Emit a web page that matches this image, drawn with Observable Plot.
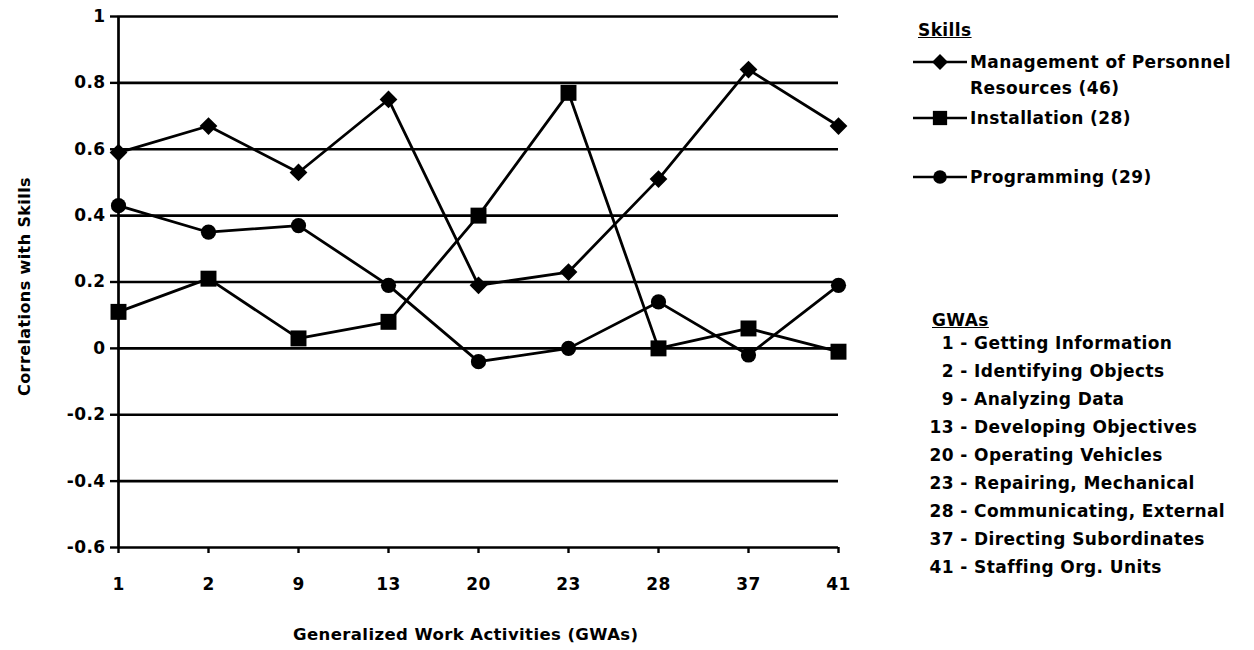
<!DOCTYPE html>
<html>
<head>
<meta charset="utf-8">
<script src="https://cdn.jsdelivr.net/npm/d3@7"></script>
<script src="https://cdn.jsdelivr.net/npm/@observablehq/plot@0.6"></script>
<style>
  body { margin: 0; background: #fff; }
  #wrap { position: relative; width: 1254px; height: 650px; overflow: hidden;
          font-family: "DejaVu Sans", sans-serif; font-weight: bold; color: #000; letter-spacing: 0.4px; }
  #chart { position: absolute; left: 0; top: 0; }
  .abs { position: absolute; white-space: nowrap; }
  .ytitle { font-size: 16px; transform: rotate(-90deg); transform-origin: center center; }
  .xtitle { font-size: 16.5px; }
  .lg { font-size: 17px; line-height: 26px; }
  .hd { font-size: 17px; line-height: 20px; text-decoration: underline; }
  .num { display: inline-block; width: 26px; text-align: right; }
</style>
</head>
<body>
<div id="wrap"><div id="chart"></div></div>
<script>
// ---- data ----
const gwas = ["1", "2", "9", "13", "20", "23", "28", "37", "41"];
const gwaNames = ["Getting Information", "Identifying Objects", "Analyzing Data",
  "Developing Objectives", "Operating Vehicles", "Repairing, Mechanical",
  "Communicating, External", "Directing Subordinates", "Staffing Org. Units"];
const skillNames = ["Management of Personnel Resources (46)", "Installation (28)", "Programming (29)"];
const management  = [0.59, 0.67, 0.53, 0.75, 0.19, 0.23, 0.51, 0.84, 0.67];
const installation = [0.11, 0.21, 0.03, 0.08, 0.40, 0.77, 0.00, 0.06, -0.01];
const programming = [0.43, 0.35, 0.37, 0.19, -0.04, 0.00, 0.14, -0.02, 0.19];
const yTicks = [-0.6, -0.4, -0.2, 0, 0.2, 0.4, 0.6, 0.8, 1];

// ---- styling per series ----
const seriesValues = [management, installation, programming];
const symbols = ["diamond2", "square", "circle"];
const radii = [8, 9, 7.6];

const rows = skillNames.flatMap((s, i) =>
  gwas.map((g, j) => ({skill: s, gwa: g, value: seriesValues[i][j]})));

const marks = [
  Plot.ruleY(yTicks, {stroke: "#000", strokeWidth: 2.7}),
  Plot.ruleX([gwas[0]], {stroke: "#000", strokeWidth: 2.7}),
  Plot.axisY({ticks: yTicks, tickSize: 7, tickPadding: 5, strokeWidth: 2.4, fontSize: 17,
    tickFormat: d => String(Math.round(d * 10) / 10), label: null}),
  Plot.axisX({tickSize: 6, tickPadding: 24, strokeWidth: 2.4, fontSize: 17, label: null})
];
skillNames.forEach((s, i) => {
  const d = rows.filter(r => r.skill === s);
  marks.push(Plot.line(d, {x: "gwa", y: "value", stroke: "#000", strokeWidth: 2.8}));
  marks.push(Plot.dot(d, {x: "gwa", y: "value", symbol: symbols[i], r: radii[i], fill: "#000", stroke: "none"}));
});

const chart = Plot.plot({
  width: 870, height: 650,
  marginLeft: 117, marginRight: 32, marginTop: 16, marginBottom: 103,
  x: {type: "point", domain: gwas, padding: 0},
  y: {domain: [-0.6, 1]},
  style: "font-family: 'DejaVu Sans', sans-serif; font-weight: bold; font-size: 17px; color: #000; background: transparent; letter-spacing: 0.4px;",
  marks
});
document.getElementById("chart").appendChild(chart);

// ---- titles ----
const wrap = document.getElementById("wrap");
function addDiv(cls, html, css) {
  const el = document.createElement("div");
  el.className = "abs " + cls;
  el.innerHTML = html;
  Object.assign(el.style, css);
  wrap.appendChild(el);
  return el;
}
const yt = addDiv("ytitle", "Correlations with Skills", {});
const ytw = yt.offsetWidth, yth = yt.offsetHeight;
yt.style.left = (24 - ytw / 2) + "px";
yt.style.top = (286 - yth / 2) + "px";

const xt = addDiv("xtitle", "Generalized Work Activities (GWAs)", {});
xt.style.left = (466 - xt.offsetWidth / 2) + "px";
xt.style.top = (634 - xt.offsetHeight / 2) + "px";

// ---- skills legend ----
addDiv("hd", "Skills", {left: "918px", top: "20px"});
const legendY = [62, 118, 177];
skillNames.forEach((s, i) => {
  const y = legendY[i];
  const svg = d3.create("svg").attr("width", 60).attr("height", 24)
    .style("position", "absolute").style("left", "910px").style("top", (y - 12) + "px");
  svg.append("line").attr("x1", 3).attr("x2", 57).attr("y1", 12).attr("y2", 12)
    .attr("stroke", "#000").attr("stroke-width", 2.6);
  const symType = [d3.symbolDiamond2, d3.symbolSquare, d3.symbolCircle][i];
  svg.append("path").attr("transform", "translate(30,12)")
    .attr("d", d3.symbol(symType, Math.PI * radii[i] * radii[i] * 0.8)()).attr("fill", "#000");
  wrap.appendChild(svg.node());
  let label = s;
  if (i === 0) label = "Management of Personnel<br>Resources (46)";
  const el = addDiv("lg", label, {left: "970px"});
  el.style.top = (y - 13) + "px";
});

// ---- GWA legend ----
addDiv("hd", "GWAs", {left: "932px", top: "310px"});
gwas.forEach((g, i) => {
  const el = addDiv("lg", `<span class="num">${g}</span> - ${gwaNames[i]}`, {left: "928px"});
  el.style.top = (330 + i * 28) + "px";
});
</script>
</body>
</html>
